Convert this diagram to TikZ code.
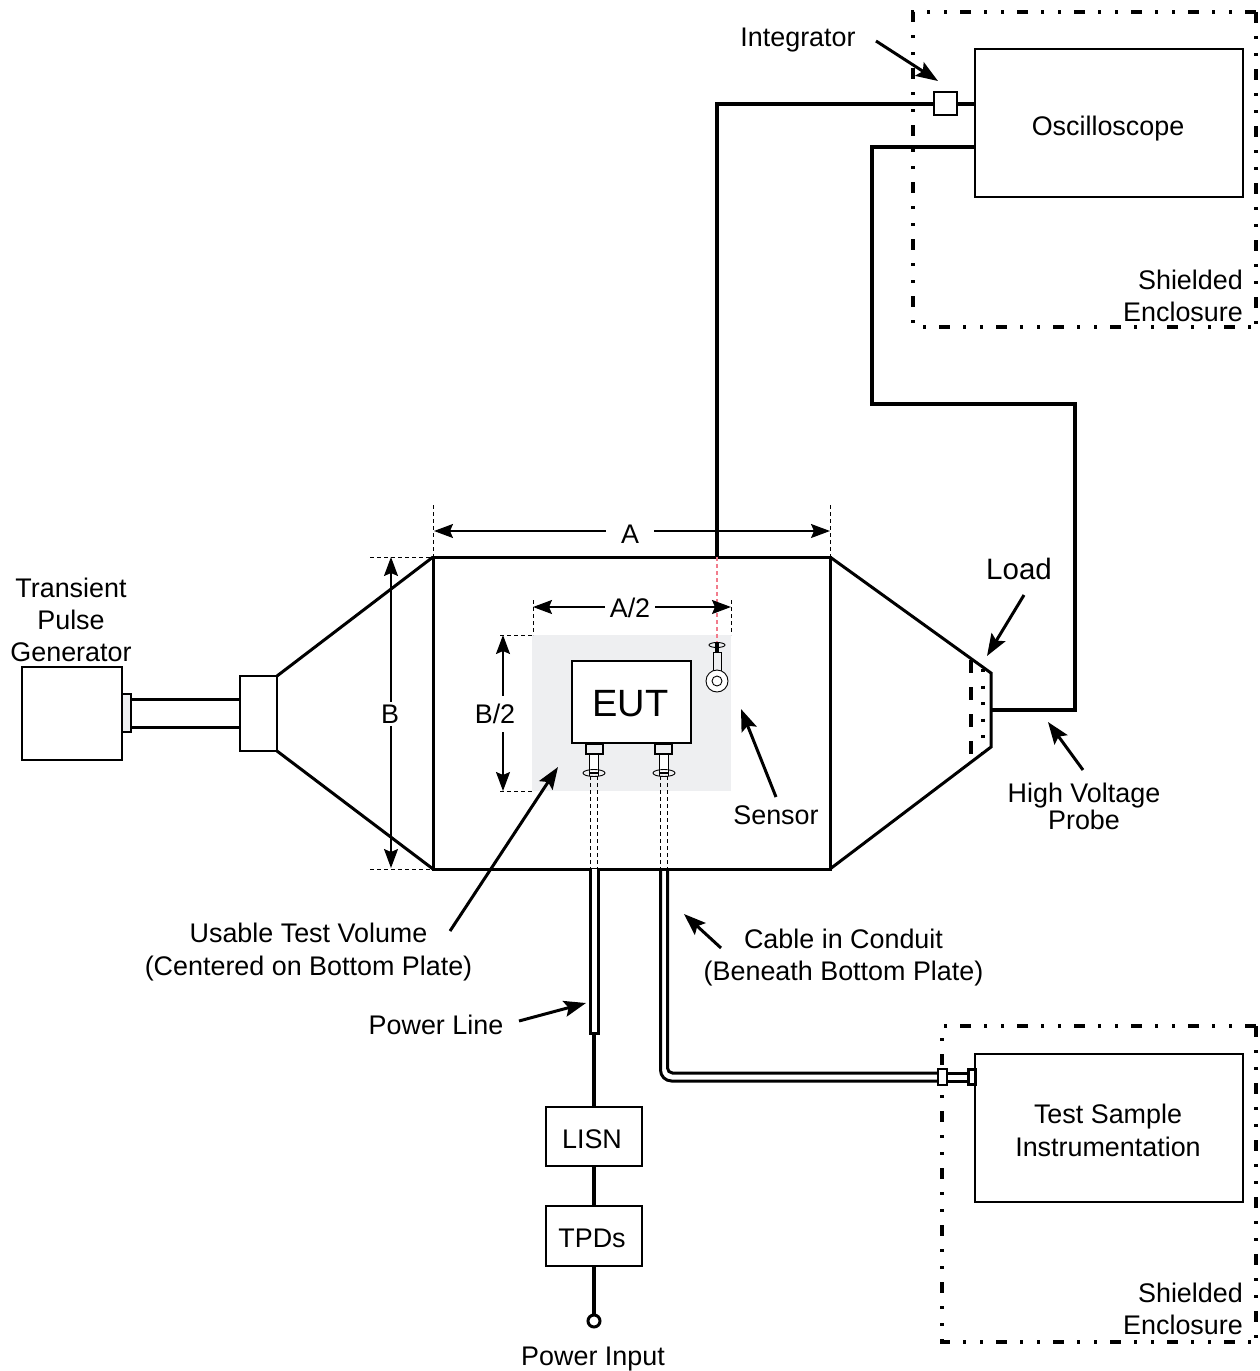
\documentclass[tikz,border=0pt]{standalone}
\usepackage{fontspec}
\setmainfont{Liberation Sans}
\usetikzlibrary{arrows.meta}
\definecolor{zonegray}{HTML}{EEEFF1}
\definecolor{probered}{HTML}{F27C8C}
\tikzset{
  x=1pt,y=-1pt,
  txt/.style={font=\fontsize{26.9}{32}\selectfont,inner sep=0pt,align=center},
  dimlabel/.style={txt,inner xsep=5pt,inner ysep=3pt},
  box/.style={draw=black,line width=2.5pt,fill=white,inner sep=0pt,txt},
  plate/.style={draw=black,line width=3pt,line join=miter},
  heavy/.style={draw=black,line width=4pt,line join=miter},
  pointer/.style={draw=black,line width=3pt,-{Stealth[length=22pt,width=16pt,inset=4pt]}},
  dimarrow/.style={draw=black,line width=1.6pt,-{Stealth[length=19pt,width=14pt,inset=3pt]}},
  ext/.style={draw=black,line width=.9pt,dash pattern=on 4pt off 3pt},
  enclosure/.style={draw=black,line width=3.05pt,dash pattern=on 11pt off 13pt on 3pt off 14pt on 3pt off 13pt},
  tube/.style={draw=black,line width=3pt},
}
\begin{document}
\begin{tikzpicture}
\useasboundingbox (0,0) rectangle (1260,1371);
% shielded enclosures
\draw[enclosure] (1256,12) -- (913,12) -- (913,327) -- (1256,327);
\draw[enclosure] (1256,12) -- (1256,327);
\draw[enclosure] (1256,1026) -- (942,1026) -- (942,1342) -- (1256,1342);
\draw[enclosure] (1256,1026) -- (1256,1342);
% usable test volume
\fill[zonegray] (532,635) rectangle (731,791);
% named points
\coordinate (chTL) at (433,557); \coordinate (chTR) at (830,557);
\coordinate (chBL) at (433,869); \coordinate (chBR) at (830,869);
\coordinate (sensorTop) at (717,557);
\coordinate (probeOut) at (992,710);
% chamber
\draw[plate] (chTL) rectangle (chBR);
\draw[plate] (chTL) -- (277,676);
\draw[plate] (chBL) -- (277,751);
\draw[plate] (chTR) -- (991,673) -- (991,747) -- (chBR);
\draw[black,line width=3.05pt,dash pattern=on 13pt off 14pt] (971,660) -- (971,755);
\draw[black,line width=3.05pt,dash pattern=on 3pt off 13.5pt] (983,669) -- (983,752);
% pulse generator
\node[box,minimum width=100pt,minimum height=93pt] (gen) at (72,713.5) {};
\node[box,minimum width=37pt,minimum height=75pt] (flange) at (258.5,713.5) {};
\node[box,fill=zonegray,minimum width=9pt,minimum height=38pt] (genconn) at (126.5,713) {};
\draw[plate] (genconn.east |- 0,699) -- (flange.west |- 0,699);
\draw[plate] (genconn.east |- 0,727) -- (flange.west |- 0,727);
% instruments
\node[box,minimum width=268pt,minimum height=148pt] (osc) at (1109,123) {};
\node[txt] (losc) at (1108,129) {\strut Oscilloscope};
\node[box,minimum width=268pt,minimum height=148pt] (tsi) at (1109,1128) {};
\node[txt] (ltsi) at (1108,1130.5) {Test Sample\\[1pt]Instrumentation};
\node[box,line width=1.3pt,minimum width=23pt,minimum height=23pt] (integ) at (945.5,103.5) {};
% sensor cable
\draw[probered,line width=1.2pt,dash pattern=on 4pt off 3pt] (sensorTop) -- (717,642);
\draw[heavy] (sensorTop) -- (717,103.5) -- (integ.west);
\draw[heavy] (integ.east) -- (osc.west |- integ);
% high voltage probe lead
\draw[heavy] (probeOut) -- (1075,710) -- (1075,404) -- (872,404) -- (872,147) -- (osc.west |- 0,147);
% EUT
\node[box,minimum width=119pt,minimum height=82pt] (eut) at (631.5,702) {};
\node[txt,font=\fontsize{38}{44}\selectfont] (leut) at (630.5,704) {EUT};
\node[box,minimum width=17pt,minimum height=10pt,fill=zonegray] (plugL) at (594.5,749) {};
\node[box,minimum width=17pt,minimum height=10pt,fill=zonegray] (plugR) at (663.5,749) {};
\foreach \n/\cx in {L/594,R/664}{
  \draw[black,line width=1.8pt,fill=white] (\cx-4.5,754) rectangle (\cx+4.5,773);
  \draw[black,line width=.9pt] (\cx,773) ellipse [x radius=11pt,y radius=3.5pt];
  \draw[black,line width=1.8pt] (\cx-4.5,770) -- (\cx-4.5,776) (\cx+4.5,770) -- (\cx+4.5,776);
  \draw[ext] (\cx-3.5,776) -- (\cx-3.5,869);
  \draw[ext] (\cx+3.5,776) -- (\cx+3.5,869);
}
% sensor
\draw[black,line width=.9pt] (717,645) ellipse [x radius=8pt,y radius=2.5pt];
\draw[black,line width=4pt] (717,643) -- (717,652);
\draw[black,line width=.9pt] (713,652) -- (713,671) (721,652) -- (721,671) (713,652) -- (721,652);
\draw[black,line width=.9pt,fill=white] (717,681) circle (11pt);
\draw[black,line width=.9pt] (717,681) circle (5pt);
% power line
\node[box,minimum width=96pt,minimum height=59pt] (lisn) at (594,1136.5) {};
\node[txt] (llisn) at (592,1139) {LISN};
\node[box,minimum width=96pt,minimum height=60pt] (tpds) at (594,1236) {};
\node[txt] (ltpds) at (592,1238) {TPDs};
\coordinate (tubeEnd) at (594,1033);
\node[draw=black,line width=3pt,fill=white,circle,minimum size=12pt,inner sep=0pt] (input) at (594,1321) {};
\draw[tube,fill=white] (590,869) -- (590,1033) -- (598,1033) -- (598,869);
\draw[heavy] (tubeEnd) -- (lisn.north);
\draw[heavy] (lisn.south) -- (tpds.north);
\draw[heavy] (tpds.south) -- (input.north);
% conduit
\node[draw=black,line width=1.3pt,fill=white,minimum width=9pt,minimum height=16pt,inner sep=0pt] (condA) at (942.5,1077) {};
\node[draw=black,line width=3pt,fill=white,minimum width=7pt,minimum height=15pt,inner sep=0pt] (condB) at (971.5,1077) {};
\draw[tube,rounded corners=11pt] (660.5,869) -- (660.5,1081) -- (condA.west |- 0,1081);
\draw[tube,rounded corners=5pt] (667.5,869) -- (667.5,1073) -- (condA.west |- 0,1073);
\draw[tube] (condA.east |- 0,1073) -- (condB.west |- 0,1073);
\draw[tube] (condA.east |- 0,1081) -- (condB.west |- 0,1081);
% dimension extension lines
\draw[ext] (433,505) -- (chTL);
\draw[ext] (830,505) -- (chTR);
\draw[ext] (370,557) -- (chTL);
\draw[ext] (370,869) -- (chBL);
\draw[ext] (533,600) -- (533,635);
\draw[ext] (731,600) -- (731,635);
\draw[ext] (500,635) -- (533,635);
\draw[ext] (500,791) -- (533,791);
% dimensions
\node[dimlabel,inner xsep=15pt] (dimA) at (630,534) {A};
\coordinate (dimAl) at (434,531); \coordinate (dimAr) at (830,531);
\draw[dimarrow] (dimA.west |- dimAl) -- (dimAl);
\draw[dimarrow] (dimA.east |- dimAr) -- (dimAr);
\node[dimlabel] (dimB) at (390,714) {B};
\coordinate (dimBt) at (391,557); \coordinate (dimBb) at (391,868);
\draw[dimarrow] (dimBt |- dimB.north) -- (dimBt);
\draw[dimarrow] (dimBb |- dimB.south) -- (dimBb);
\node[dimlabel] (dimAh) at (630,608) {A/2};
\coordinate (dimAhl) at (533,607); \coordinate (dimAhr) at (731,607);
\draw[dimarrow] (dimAh.west |- dimAhl) -- (dimAhl);
\draw[dimarrow] (dimAh.east |- dimAhr) -- (dimAhr);
\node[dimlabel,inner ysep=8pt] (dimBh) at (495,714) {B/2};
\coordinate (dimBht) at (503,635); \coordinate (dimBhb) at (503,791);
\draw[dimarrow] (dimBht |- dimBh.north) -- (dimBht);
\draw[dimarrow] (dimBhb |- dimBh.south) -- (dimBhb);
% labels
\node[txt] (lgen) at (71,620) {Transient\\[0pt]Pulse\\[0pt]Generator};
\node[txt] (lint) at (798,40) {Integrator};
\node[txt,align=right,anchor=east] (lsh1) at (1243,296) {Shielded\\[0pt]Enclosure};
\node[txt,align=right,anchor=east] (lsh2) at (1243,1308.5) {Shielded\\[0pt]Enclosure};
\node[txt,font=\fontsize{29.5}{32}\selectfont] (lload) at (1019,569) {Load};
\node[txt,font=\fontsize{26.9}{27}\selectfont] (lhv) at (1084,806.5) {High Voltage\\Probe};
\node[txt] (lsens) at (776,815) {Sensor};
\node[txt] (lvol) at (308.5,952.5) {Usable Test Volume\\[1pt](Centered on Bottom Plate)};
\node[txt] (lcab) at (843.5,958) {Cable in Conduit\\(Beneath Bottom Plate)};
\node[txt] (lpow) at (436,1025) {Power Line};
\node[txt] (lin) at (593,1359) {Power Input};
% pointers
\coordinate (pIa) at (876,41); \coordinate (pIb) at (938,81);
\coordinate (pLa) at (1024,595); \coordinate (pLb) at (987,656);
\coordinate (pHa) at (1083,770); \coordinate (pHb) at (1048,722);
\coordinate (pSa) at (776,797); \coordinate (pSb) at (741,709);
\coordinate (pVa) at (450,931); \coordinate (pVb) at (558,767);
\coordinate (pCa) at (721,948); \coordinate (pCb) at (684,914);
\coordinate (pPa) at (519,1021); \coordinate (pPb) at (586,1003);
\draw[pointer] (pIa) -- (pIb);
\draw[pointer] (pLa) -- (pLb);
\draw[pointer] (pHa) -- (pHb);
\draw[pointer] (pSa) -- (pSb);
\draw[pointer] (pVa) -- (pVb);
\draw[pointer] (pCa) -- (pCb);
\draw[pointer] (pPa) -- (pPb);
\end{tikzpicture}
\end{document}
